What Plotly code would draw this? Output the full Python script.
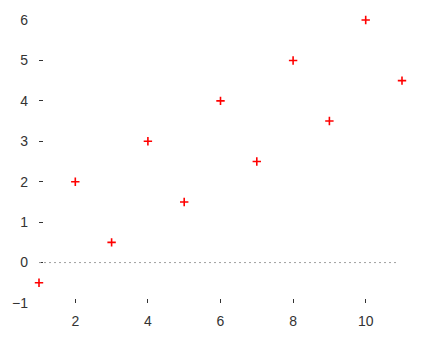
import plotly.graph_objects as go

x_vals = [1, 2, 3, 4, 5, 6, 7, 8, 9, 10, 11]
y_vals = [-0.5, 2, 0.5, 3, 1.5, 4, 2.5, 5, 3.5, 6, 4.5]
x_ticks = [2, 4, 6, 8, 10]
y_ticks = [-1, 0, 1, 2, 3, 4, 5, 6]

fig = go.Figure()
fig.add_trace(go.Scatter(
    x=x_vals, y=y_vals, mode="markers",
    marker=dict(symbol="cross-thin", size=6, line=dict(color="red", width=1.6), color="red"),
    cliponaxis=False, showlegend=False,
))
fig.add_shape(type="line", xref="paper", yref="y", x0=0, x1=0.99, y0=0, y1=0,
              line=dict(color="#a0a0a0", width=1, dash="2px,3px"))

font = dict(family="Liberation Sans, Arial, sans-serif", size=14, color="#333")
fig.update_layout(
    width=427, height=341,
    margin=dict(l=37, r=25, t=17, b=36),
    paper_bgcolor="white", plot_bgcolor="white",
    font=font,
    xaxis=dict(range=[1, 11], tickvals=x_ticks, ticks="inside", ticklen=4, tickcolor="#333",
               showgrid=False, zeroline=False, showline=False, ticklabelstandoff=8),
    yaxis=dict(range=[-1, 6], tickvals=y_ticks, ticks="inside", ticklen=4, tickcolor="#333",
               showgrid=False, zeroline=False, showline=False, ticklabelstandoff=10),
)
fig.write_html("out.html")
